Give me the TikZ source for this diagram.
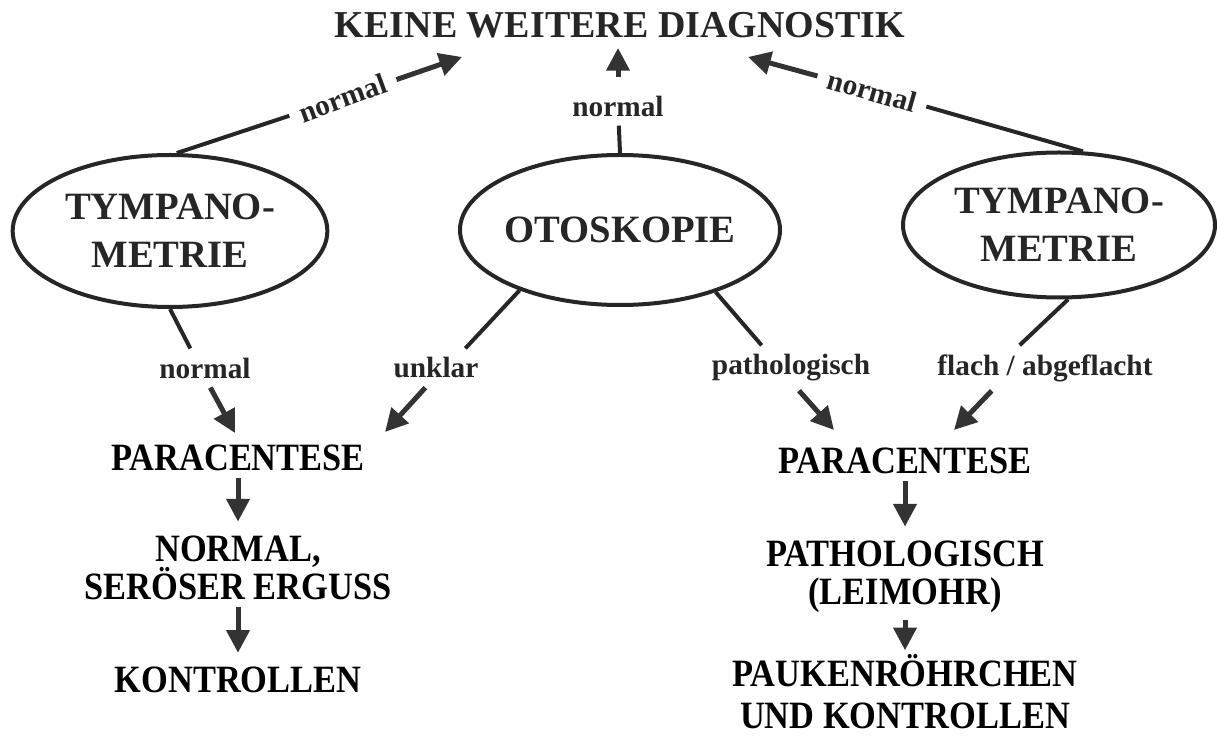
\documentclass[tikz,border=0pt]{standalone}
\usepackage{fontspec}
\setmainfont{Liberation Serif}
\newfontfamily\narrowfont[FakeStretch=0.89]{Liberation Serif}
\usetikzlibrary{arrows.meta,positioning,shapes.geometric}

\begin{document}
\begin{tikzpicture}[
  x=0.75pt, y=-0.75pt,
  >={Triangle[length=17pt,width=17pt]},
  ell/.style={draw=black!85,ellipse,line width=3pt,inner sep=0pt,align=center,text=black!85,font=\fontsize{29}{36}\selectfont\bfseries},
  res/.style={align=center,inner ysep=5.25pt,font=\narrowfont\bfseries\fontsize{29}{29}\selectfont},
  lab/.style={inner xsep=8pt,inner ysep=6.75pt,text=black!85,font=\fontsize{22}{26}\selectfont\bfseries},
  ln/.style={draw=black!85,line width=3pt},
  ar/.style={->,draw=black!80,line width=3.75pt}
]
\useasboundingbox (0,0) rectangle (1217,737);
% top: goal and the three examinations
\node[font=\fontsize{28.5}{34}\selectfont\bfseries,text=black!85] (kwd) at (620,25) {KEINE WEITERE DIAGNOSTIK};
\node[ell,minimum width=236pt,minimum height=114pt] (tymL) at (170,231) {TYMPANO-\\METRIE};
\node[ell,minimum width=240pt,minimum height=112.5pt,inner xsep=-4pt] (oto) at (620,230) {OTOSKOPIE};
\node[ell,minimum width=234pt,minimum height=108.75pt] (tymR) at (1059,225) {TYMPANO-\\METRIE};
% normal findings -> no further diagnostics
\node[lab,rotate=20] (nL) at (343,98) {normal};
\node[lab] (nM) at (618,106) {normal};
\node[lab,rotate=-16] (nR) at (872,91) {normal};
\coordinate (aL) at (462,57);
\coordinate (aM) at (618,48);
\coordinate (aR) at (748,57);
\draw[ln] (tymL.85) -- (nL);
\draw[ar] (nL) -- (aL);
\draw[ln] (oto.north) -- (nM);
\draw[ar,shorten <=7pt] (nM) -- (aM);
\draw[ln] (tymR.72) -- (nR);
\draw[ar] (nR) -- (aR);
% findings leading to paracentesis
\node[lab] (nB) at (205,368) {normal};
\node[lab] (unk) at (436,368) {unklar};
\node[lab] (pat) at (791,368) {pathologisch};
\node[lab] (fla) at (1045,368) {flach / abgeflacht};
\coordinate (bN) at (235,433);
\coordinate (bU) at (385,432);
\coordinate (bP) at (834,430);
\coordinate (bF) at (954,430);
\draw[ln] (tymL.south) -- ([xshift=-11pt]nB.north);
\draw[ar] ([xshift=4pt]nB.south) -- (bN);
\draw[ln] (oto.211) -- ([xshift=22pt]unk.north);
\draw[ar] ([xshift=-8pt]unk.south) -- (bU);
\draw[ln] (oto.-33) -- ([xshift=-22pt]pat.north);
\draw[ar] ([xshift=6pt]pat.south) -- (bP);
\draw[ln] (tymR.-83) -- ([xshift=-19pt]fla.north);
\draw[ar] ([xshift=-40pt]fla.south) -- (bF);
% left chain
\node[res] (parL) at (238,458) {PARACENTESE};
\node[res,below=37.5pt of parL] (resL) {NORMAL,\\SERÖSER ERGUSS};
\node[res,below=39pt of resL] (konL) {KONTROLLEN};
\draw[ar,shorten >=5pt] (parL) -- (resL);
\draw[ar,shorten >=5pt] (resL) -- (konL);
% right chain
\node[res] (parR) at (905,461) {PARACENTESE};
\node[res,below=39pt of parR] (resR) {PATHOLOGISCH\\(LEIMOHR)};
\node[res,below=24.5pt of resR,inner ysep=1pt,font=\narrowfont\bfseries\fontsize{29}{31.5}\selectfont] (konR) {PAUKENRÖHRCHEN\\UND KONTROLLEN};
\draw[ar,shorten >=5pt] (parR) -- (resR);
\draw[ar,shorten >=2pt] (resR) -- (konR);
\end{tikzpicture}
\end{document}
